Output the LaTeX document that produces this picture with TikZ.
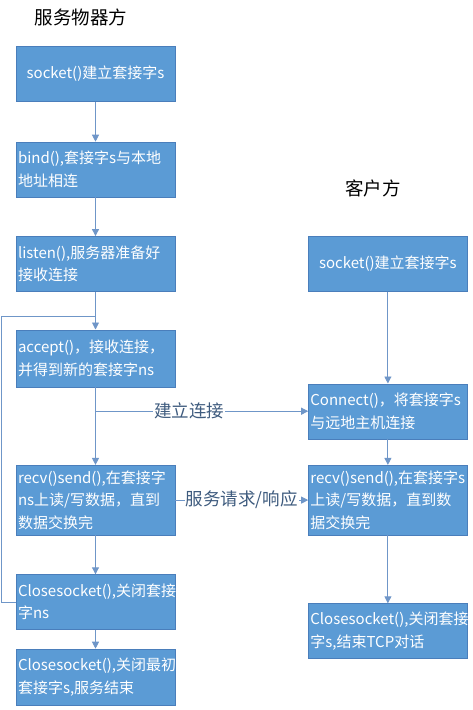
\documentclass[tikz,border=0pt]{standalone}
\usepackage{fontspec}
\setmainfont{Noto Sans CJK SC}
\usepackage{tikz}
\usetikzlibrary{positioning,arrows.meta}
\definecolor{boxblue}{HTML}{5B9BD5}
\definecolor{boxedge}{HTML}{4A7EBB}
\definecolor{linecol}{HTML}{6F96C8}
\definecolor{labtext}{HTML}{3E5B7E}
\tikzset{
  box/.style={rectangle, draw=boxedge, fill=boxblue, text=white, minimum width=159pt,
              minimum height=55pt, text width=155pt, inner xsep=2pt, inner ysep=2pt,
              align=left, font=\fontsize{15}{22.5}\selectfont},
  boxc/.style={box, align=center},
  fwd/.style={-{Triangle[length=7pt,width=7pt]}, draw=linecol, line width=0.9pt},
  plain/.style={draw=linecol, line width=0.9pt},
  lab/.style={fill=white, inner sep=1pt, text=labtext, font=\fontsize{17.5}{20}\selectfont},
  title/.style={font=\fontsize{18.5}{20}\selectfont},
}
\begin{document}
\begin{tikzpicture}[x=1pt,y=-1pt]
  \useasboundingbox (0,0) rectangle (473,710);

  \node[title] (srvtitle) at (81,17) {服务物器方};
  \node[boxc] (srv1) at (95.5,74) {socket()建立套接字s};
  \node[box] (srv2) [below=40pt of srv1] {bind(),套接字s与本地\\地址相连};
  \node[box] (srv3) [below=39pt of srv2] {listen(),服务器准备好\\接收连接};
  \node[box, minimum height=57pt] (srv4) [below=38pt of srv3] {accept()，接收连接，\\并得到新的套接字ns};
  \node[box, minimum height=70pt] (srv5) [below=78pt of srv4] {recv()send(),在套接字\\ns上读/写数据，直到\\数据交换完};
  \node[box] (srv6) [below=39pt of srv5] {Closesocket(),关闭套接\\字ns};
  \node[box, minimum height=56pt] (srv7) [below=19pt of srv6] {Closesocket(),关闭最初\\套接字s,服务结束};

  \node[title] (clititle) at (373,188) {客户方};
  \node[boxc] (cli1) [right=133pt of srv3] {socket()建立套接字s};
  \node[box] (cli2) [below=92pt of cli1] {Connect()，将套接字s\\与远地主机连接};
  \node[box, minimum height=70pt] (cli3) [below=26pt of cli2] {recv()send(),在套接字s\\上读/写数据，直到数\\据交换完};
  \node[box] (cli4) [below=68pt of cli3] {Closesocket(),关闭套接\\字s,结束TCP对话};

  \coordinate (loopin) at ([yshift=13pt]srv4.north);
  \coordinate (branch) at (srv4.south |- cli2.west);

  \draw[fwd] (srv1.south) -- (srv2.north);
  \draw[fwd] (srv2.south) -- (srv3.north);
  \draw[fwd] (srv3.south) -- (srv4.north);
  \draw[fwd] (srv4.south) -- (srv5.north);
  \draw[fwd] (srv5.south) -- (srv6.north);
  \draw[fwd] (srv6.south) -- (srv7.north);
  \draw[plain] (srv6.west) -- ++(-14pt,0) |- (loopin);

  \draw[fwd] (cli1.south) -- (cli2.north);
  \draw[fwd] (cli2.south) -- (cli3.north);
  \draw[fwd] (cli3.south) -- (cli4.north);

  \draw[fwd] (branch) -- node[lab, pos=0.44] {建立连接} (cli2.west);
  \draw[fwd] (srv5.east) -- node[lab] {服务请求/响应} (cli3.west);
\end{tikzpicture}
\end{document}
